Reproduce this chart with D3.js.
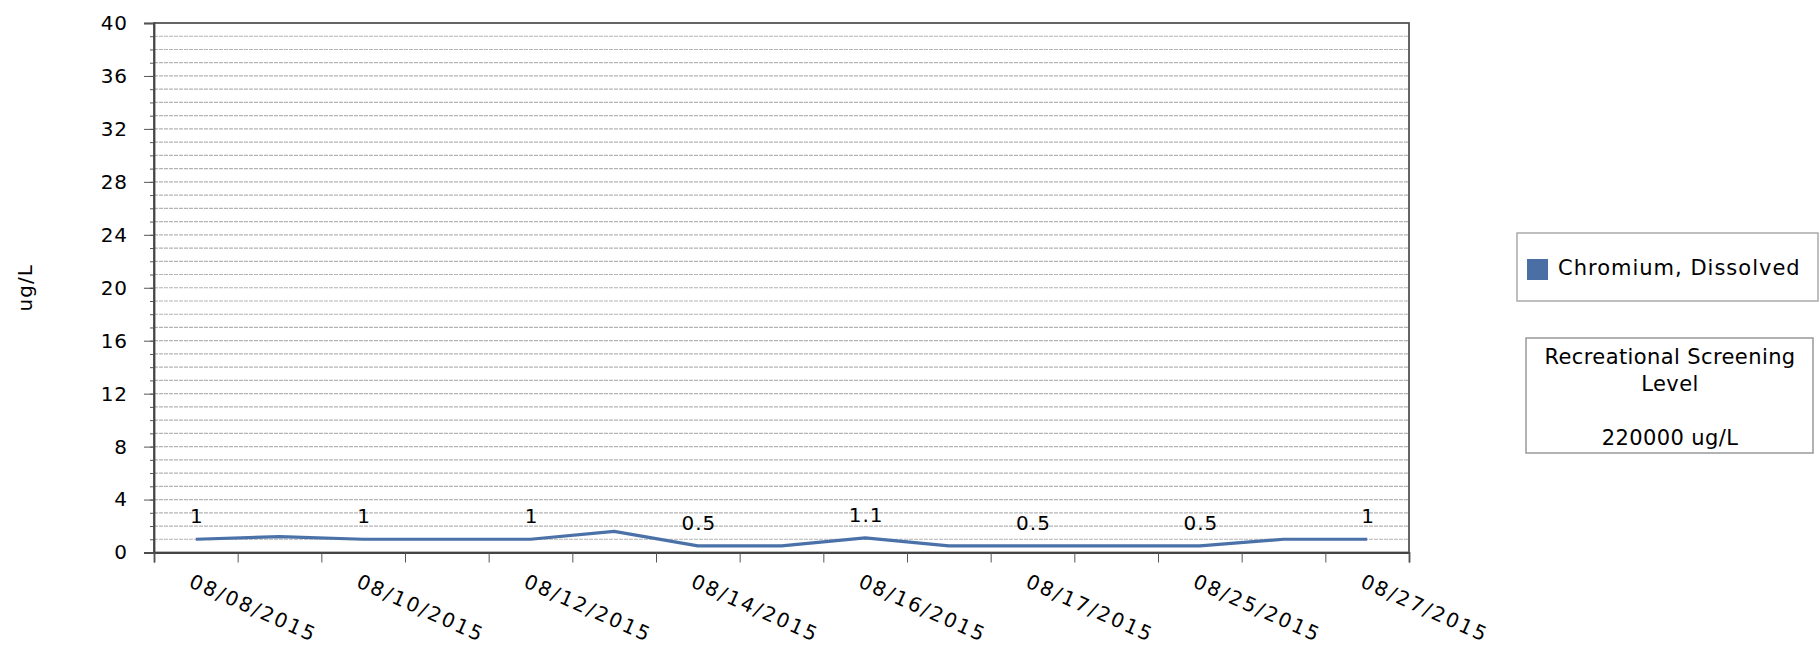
<!DOCTYPE html>
<html><head><meta charset="utf-8">
<script src="https://cdn.jsdelivr.net/npm/d3@7/dist/d3.min.js"></script>
<style>
html,body{margin:0;padding:0;background:#fff;}
text{font-family:Verdana,"DejaVu Sans",sans-serif;fill:#000;}
</style></head>
<body><svg id="c" width="1820" height="650"></svg>
<script>
// ---- data ----
const categoryLabels = ["08/08/2015","","08/10/2015","","08/12/2015","","08/14/2015","","08/16/2015","","08/17/2015","","08/25/2015","","08/27/2015"];
const seriesName = "Chromium, Dissolved";
const seriesValues = [1, 1.2, 1, 1, 1, 1.6, 0.5, 0.5, 1.1, 0.5, 0.5, 0.5, 0.5, 1, 1];
const dataLabelIdx = [0, 2, 4, 6, 8, 10, 12, 14];
const yTickValues = [0, 4, 8, 12, 16, 20, 24, 28, 32, 36, 40];
const yMinorValues = d3.range(0, 41, 1);
const yTitle = "ug/L";
const screeningLines = ["Recreational Screening", "Level", "", "220000 ug/L"];

// ---- layout ----
const svg = d3.select("#c");
const L = 154, R = 1409, T = 23, B = 552.5;
const x = d3.scaleBand().domain(d3.range(seriesValues.length)).range([L, R]);
const xb = d3.scaleLinear().domain([0, seriesValues.length]).range([L, R]);
const y = d3.scaleLinear().domain([0, 40]).range([B, T]);
const bw = x.bandwidth();

// gridlines
svg.append("g").selectAll("line").data(yMinorValues.filter(v => v > 0 && v < 40)).join("line")
  .attr("x1", L).attr("x2", R).attr("y1", d => y(d)).attr("y2", d => y(d))
  .attr("stroke", "#b4b4b4").attr("stroke-width", 1.2).attr("stroke-dasharray", "4,1");

// frame
svg.append("rect").attr("x", L).attr("y", T).attr("width", R - L).attr("height", B - T)
  .attr("fill", "none").attr("stroke", "#555").attr("stroke-width", 1.8);

// y minor ticks
svg.append("g").attr("transform", `translate(${L},0)`)
  .call(d3.axisLeft(y).tickValues(yMinorValues).tickSize(4).tickFormat(""))
  .call(g => g.select(".domain").remove())
  .selectAll("line").attr("stroke", "#555");

// y major axis
const ya = svg.append("g").attr("transform", `translate(${L},0)`)
  .call(d3.axisLeft(y).tickValues(yTickValues).tickSize(10).tickPadding(17));
ya.select(".domain").attr("stroke", "#444").attr("stroke-width", 1.8);
ya.selectAll("line").attr("stroke", "#555");
ya.selectAll("text").style("font-size", "20px").style("letter-spacing", "0.8px")
  .attr("dx", "0.8px").attr("fill", "#000");

// x axis (ticks on band boundaries)
const xa = svg.append("g").attr("transform", `translate(0,${B})`)
  .call(d3.axisBottom(xb).tickValues(d3.range(seriesValues.length + 1)).tickSize(10).tickFormat(""));
xa.select(".domain").attr("stroke", "#444").attr("stroke-width", 1.8);
xa.selectAll("line").attr("stroke", "#555");

// x labels
svg.append("g").selectAll("text").data(categoryLabels.map((l, i) => ({l, i})).filter(d => d.l))
  .join("text")
  .attr("transform", d => `translate(${x(d.i) + bw / 2 - 8},${B + 34}) rotate(24)`)
  .attr("text-anchor", "start")
  .style("font-size", "20px").style("letter-spacing", "2.2px")
  .text(d => d.l);

// y title
svg.append("text").attr("transform", `translate(32,${(T + B) / 2}) rotate(-90)`)
  .attr("text-anchor", "middle").style("font-size", "20px").style("letter-spacing", "1px").text(yTitle);

// line
const line = d3.line().x((d, i) => x(i) + bw / 2).y(d => y(d));
svg.append("path").datum(seriesValues).attr("d", line)
  .attr("fill", "none").attr("stroke", "#4a72a8").attr("stroke-width", 3.2)
  .attr("stroke-linejoin", "round");

// data labels
svg.append("g").selectAll("text").data(dataLabelIdx).join("text")
  .attr("x", i => x(i) + bw / 2 + 1).attr("y", i => y(seriesValues[i]) - 16)
  .attr("text-anchor", "middle").style("font-size", "20px").style("letter-spacing", "1px")
  .text(i => d3.format("")(seriesValues[i]));

// legend
const lg = svg.append("g");
lg.append("rect").attr("x", 1517).attr("y", 233).attr("width", 301).attr("height", 68)
  .attr("fill", "#fff").attr("stroke", "#aaa").attr("stroke-width", 1.5);
lg.append("rect").attr("x", 1527).attr("y", 259).attr("width", 21).attr("height", 21).attr("fill", "#4a6fa5");
lg.append("text").attr("x", 1558).attr("y", 275).style("font-size", "21px").style("letter-spacing", "1px")
  .text(seriesName);

// screening level box
const sb = svg.append("g");
sb.append("rect").attr("x", 1526).attr("y", 338).attr("width", 287).attr("height", 115)
  .attr("fill", "#fff").attr("stroke", "#999").attr("stroke-width", 1.5);
sb.selectAll("text").data(screeningLines).join("text")
  .attr("x", 1670).attr("y", (d, i) => 364 + i * 27)
  .attr("text-anchor", "middle").style("font-size", "21px").style("letter-spacing", "0.4px")
  .text(d => d);
</script></body></html>
